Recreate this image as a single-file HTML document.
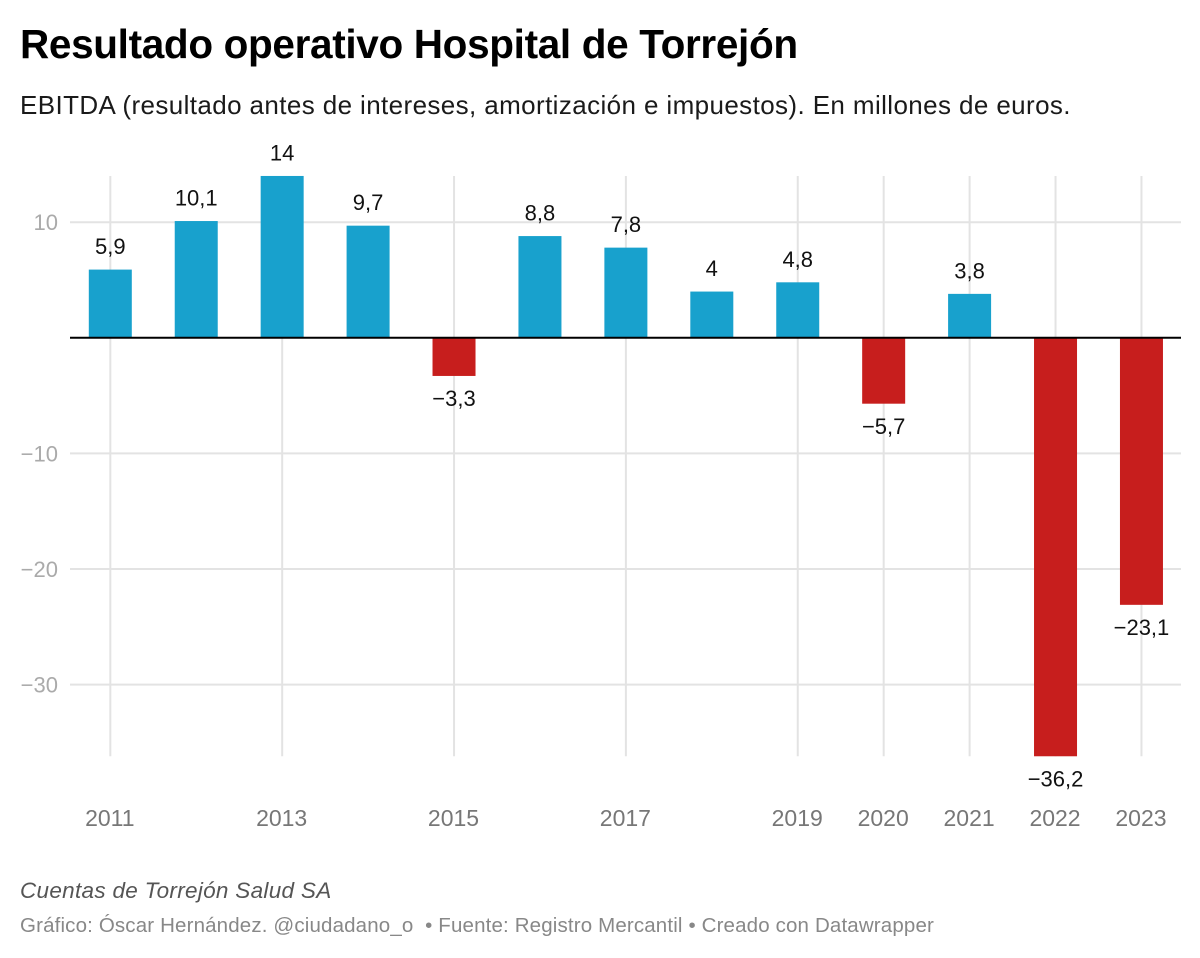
<!DOCTYPE html>
<html lang="es">
<head>
<meta charset="utf-8">
<title>Resultado operativo Hospital de Torrejón</title>
<style>
html,body{margin:0;padding:0;background:#fff}
#chart-page{position:relative;width:1200px;height:958px;overflow:hidden;font-family:"Liberation Sans",sans-serif}
.t{position:absolute;white-space:nowrap;margin:0}
svg{position:absolute;left:0;top:0}
svg text{font-family:"Liberation Sans",sans-serif}
</style>
</head>
<body>
<div id="chart-page">
<h1 class="t" style="left:20px;top:19px;font-size:40.5px;line-height:50px;font-weight:700;color:#000;letter-spacing:-0.34px">Resultado operativo Hospital de Torrejón</h1>
<p class="t" style="left:20px;top:88px;font-size:26px;line-height:34px;color:#1a1a1a;letter-spacing:0.39px">EBITDA (resultado antes de intereses, amortización e impuestos). En millones de euros.</p>
<svg id="plot" width="1200" height="958" viewBox="0 0 1200 958"></svg>
<p class="t" style="left:20px;top:877px;font-size:22.5px;line-height:28px;font-style:italic;color:#555;letter-spacing:0.3px">Cuentas de Torrejón Salud SA</p>
<p class="t" style="left:20px;top:912px;font-size:20.5px;line-height:28px;color:#888;letter-spacing:0.15px">Gráfico: Óscar Hernández. @ciudadano_o &nbsp;• Fuente: Registro Mercantil • Creado con Datawrapper</p>
</div>
<script>
const years = [2011, 2012, 2013, 2014, 2015, 2016, 2017, 2018, 2019, 2020, 2021, 2022, 2023];
const ebitda = [5.9, 10.1, 14, 9.7, -3.3, 8.8, 7.8, 4, 4.8, -5.7, 3.8, -36.2, -23.1];
const xTickYears = [2011, 2013, 2015, 2017, 2019, 2020, 2021, 2022, 2023];
const yTicks = [10, -10, -20, -30];

const svgNS = 'http://www.w3.org/2000/svg';
const plot = document.getElementById('plot');
const xFor = function (year) { return 110.3 + (year - 2011) * 85.93; };
const yFor = function (value) { return 337.8 - value * 11.56; };
const fmt = function (v) { return String(v).replace('.', ',').replace('-', '\u2212'); };
const make = function (tag, attrs, text) {
  const el = document.createElementNS(svgNS, tag);
  Object.keys(attrs).forEach(function (k) { el.setAttribute(k, attrs[k]); });
  if (text !== undefined) el.textContent = text;
  plot.appendChild(el);
  return el;
};
const plotTop = yFor(14);
const plotBottom = yFor(-36.2);

yTicks.forEach(function (t) {
  const g = make('line', { x1: 70, x2: 1181, y1: yFor(t), y2: yFor(t), stroke: '#e3e3e3', 'stroke-width': 2 });
  
  
  const lbl = make('text', { x: 58, y: yFor(t) + 8, 'text-anchor': 'end', 'font-size': 22, fill: '#aaaaaa' }, fmt(t));
  
  
});

xTickYears.forEach(function (yr) {
  const g = make('line', { x1: xFor(yr), x2: xFor(yr), y1: plotTop, y2: plotBottom, stroke: '#e3e3e3', 'stroke-width': 2 });
  
  
  const lbl = make('text', { x: xFor(yr) - 0.5, y: 826, 'text-anchor': 'middle', 'font-size': 23, fill: '#777777' }, yr);
  
  
});

years.forEach(function (yr, i) {
  const v = ebitda[i];
  const top = Math.min(yFor(v), yFor(0));
  const h = Math.abs(yFor(v) - yFor(0));
  const bar = make('rect', { x: xFor(yr) - 21.5, y: top, width: 43, height: h, fill: v >= 0 ? '#18a1cd' : '#c71e1d' });
  
  
  const ly = v >= 0 ? yFor(v) - 15.5 : yFor(v) + 30.2;
  const lbl = make('text', { x: xFor(yr), y: ly, 'text-anchor': 'middle', 'font-size': 22, fill: '#111111' }, fmt(v));
  
  
});

const base = make('line', { x1: 70, x2: 1181, y1: yFor(0), y2: yFor(0), stroke: '#000000', 'stroke-width': 2 });


</script>
</body>
</html>
